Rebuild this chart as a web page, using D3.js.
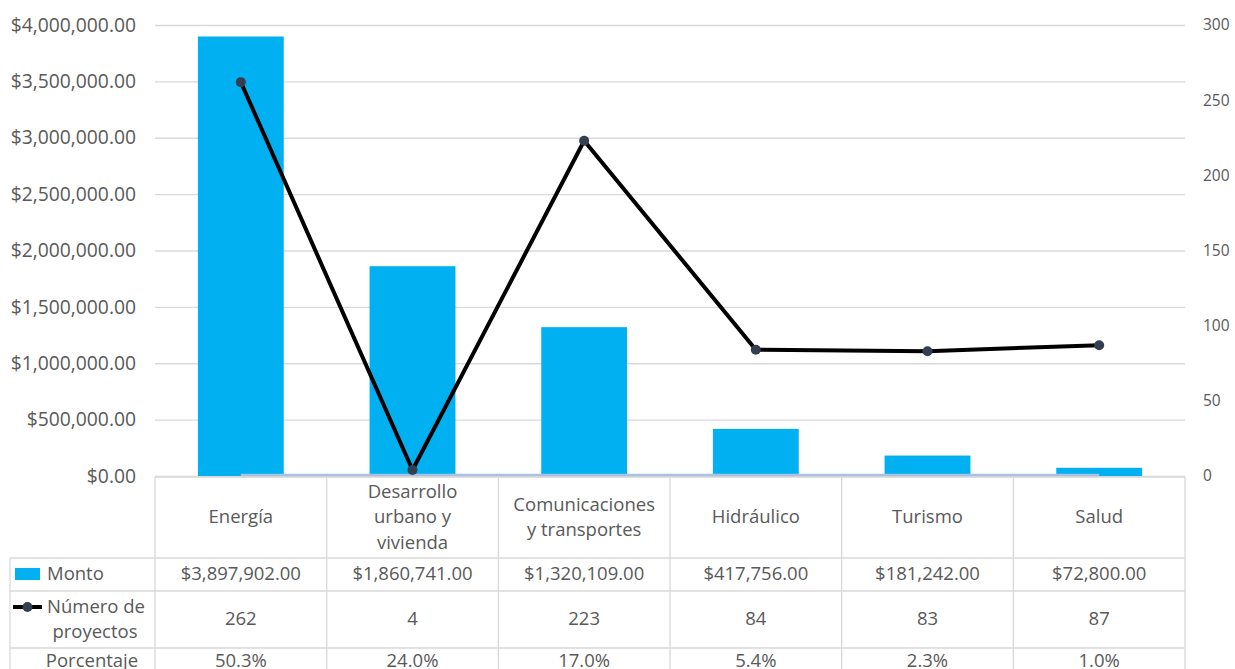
<!DOCTYPE html>
<html>
<head>
<meta charset="utf-8">
<script src="https://cdn.jsdelivr.net/npm/d3@7"></script>
<style>
  body { margin: 0; background: #fff; }
  svg text { font-family: "Open Sans", sans-serif; fill: #595959; }
</style>
</head>
<body>
<div id="chart"></div>
<script>
const categories = [
  ["Energía"],
  ["Desarrollo", "urbano y", "vivienda"],
  ["Comunicaciones", "y transportes"],
  ["Hidráulico"],
  ["Turismo"],
  ["Salud"]
];
const monto = [3897902, 1860741, 1320109, 417756, 181242, 72800];
const proyectos = [262, 4, 223, 84, 83, 87];
const porcentaje = [0.503, 0.24, 0.17, 0.054, 0.023, 0.01];
const leftTicks = [0, 500000, 1000000, 1500000, 2000000, 2500000, 3000000, 3500000, 4000000];
const rightTicks = [0, 50, 100, 150, 200, 250, 300];

const w = 1235;
const h = 669;
const margin = { top: 25, right: 50, left: 155 };
const plotBottom = 476;
const plotRight = w - margin.right;

const keys = categories.map((c, i) => i);

const xScale = d3.scaleBand()
  .domain(keys)
  .range([margin.left, plotRight])
  .paddingInner(0.5)
  .paddingOuter(0.25);

const colScale = d3.scaleBand()
  .domain(keys)
  .range([margin.left, plotRight]);

const yLeft = d3.scaleLinear().domain([0, 4000000]).range([plotBottom, margin.top]);
const yRight = d3.scaleLinear().domain([0, 300]).range([plotBottom, margin.top]);

const svg = d3.select("#chart").append("svg")
  .attr("width", w)
  .attr("height", h);

// gridlines
svg.append("g")
  .attr("transform", `translate(${margin.left},0)`)
  .call(d3.axisLeft(yLeft).tickValues(leftTicks).tickSize(-(plotRight - margin.left)).tickFormat(""))
  .call(g => g.select(".domain").remove())
  .call(g => g.selectAll("line").attr("stroke", "#d9d9d9").attr("stroke-width", 1.3));

// left axis
svg.append("g")
  .attr("transform", `translate(${margin.left - 19},0)`)
  .call(d3.axisLeft(yLeft).tickValues(leftTicks).tickSize(0).tickPadding(0).tickFormat(d3.format("$,.2f")))
  .call(g => g.select(".domain").remove())
  .call(g => g.selectAll("text").style("font-size", "19.3px").attr("fill", "#595959"));

// right axis
svg.append("g")
  .attr("transform", `translate(${plotRight + 18},0)`)
  .call(d3.axisRight(yRight).tickValues(rightTicks).tickSize(0).tickPadding(0))
  .call(g => g.select(".domain").remove())
  .call(g => g.selectAll("text").style("font-size", "15.5px").attr("fill", "#595959"));

// bars
svg.append("g").selectAll("rect")
  .data(monto)
  .enter()
  .append("rect")
  .attr("x", (d, i) => xScale(i))
  .attr("y", d => yLeft(d))
  .attr("width", xScale.bandwidth())
  .attr("height", d => yLeft(0) - yLeft(d))
  .attr("fill", "#00b0f0");

// table lines
const tbl = svg.append("g").attr("stroke", "#d9d9d9").attr("stroke-width", 1.3);
const rowTop = [476, 558, 591, 648];
tbl.append("line").attr("x1", margin.left).attr("x2", plotRight).attr("y1", 477).attr("y2", 477);
rowTop.slice(1).forEach(y => {
  tbl.append("line").attr("x1", 10).attr("x2", plotRight).attr("y1", y).attr("y2", y);
});
tbl.append("line").attr("x1", 10).attr("x2", 10).attr("y1", 558).attr("y2", h);
keys.forEach(i => {
  tbl.append("line").attr("x1", colScale(i)).attr("x2", colScale(i)).attr("y1", 477).attr("y2", h);
});
tbl.append("line").attr("x1", plotRight).attr("x2", plotRight).attr("y1", 477).attr("y2", h);

// porcentaje series (on left axis, near zero)
const cx = i => xScale(i) + xScale.bandwidth() / 2;
svg.append("path")
  .datum(porcentaje)
  .attr("fill", "none")
  .attr("stroke", "#a9c2e3")
  .attr("stroke-width", 2.5)
  .attr("d", d3.line().x((d, i) => cx(i)).y(d => yLeft(d) - 1));

// line series
svg.append("path")
  .datum(proyectos)
  .attr("fill", "none")
  .attr("stroke", "#000")
  .attr("stroke-width", 4)
  .attr("stroke-linejoin", "round")
  .attr("d", d3.line().x((d, i) => cx(i)).y(d => yRight(d)));

svg.append("g").selectAll("circle")
  .data(proyectos)
  .enter()
  .append("circle")
  .attr("cx", (d, i) => cx(i))
  .attr("cy", d => yRight(d))
  .attr("r", 5)
  .attr("fill", "#333f50");

// table text
const fs = "18.5px";
const cat = svg.append("g").attr("text-anchor", "middle").style("font-size", fs);
categories.forEach((lines, i) => {
  const lh = 25.5;
  const y0 = 517 - (lines.length - 1) * lh / 2;
  lines.forEach((t, j) => {
    cat.append("text").attr("x", cx(i)).attr("y", y0 + j * lh).attr("dy", "0.35em").text(t);
  });
});

const fmtMoney = d3.format("$,.2f");
const fmtPct = d3.format(".1%");
const rows = svg.append("g").attr("text-anchor", "middle").style("font-size", fs);
monto.forEach((d, i) => rows.append("text").attr("x", cx(i)).attr("y", 574).attr("dy", "0.35em").text(fmtMoney(d)));
proyectos.forEach((d, i) => rows.append("text").attr("x", cx(i)).attr("y", 619).attr("dy", "0.35em").text(d));
porcentaje.forEach((d, i) => rows.append("text").attr("x", cx(i)).attr("y", 661).attr("dy", "0.35em").text(fmtPct(d)));

// row labels with legend keys
const lab = svg.append("g").style("font-size", fs);
lab.append("rect").attr("x", 15).attr("y", 568).attr("width", 25).attr("height", 12).attr("fill", "#00b0f0");
lab.append("text").attr("x", 47).attr("y", 574).attr("dy", "0.35em").text("Monto");
lab.append("line").attr("x1", 13).attr("x2", 42).attr("y1", 607).attr("y2", 607).attr("stroke", "#000").attr("stroke-width", 4);
lab.append("circle").attr("cx", 27.5).attr("cy", 607).attr("r", 5).attr("fill", "#333f50");
lab.append("text").attr("x", 47).attr("y", 607).attr("dy", "0.35em").text("Número de");
lab.append("text").attr("x", 95).attr("y", 632).attr("dy", "0.35em").attr("text-anchor", "middle").text("proyectos");
lab.append("text").attr("x", 92).attr("y", 661).attr("dy", "0.35em").attr("text-anchor", "middle").text("Porcentaje");
</script>
</body>
</html>
